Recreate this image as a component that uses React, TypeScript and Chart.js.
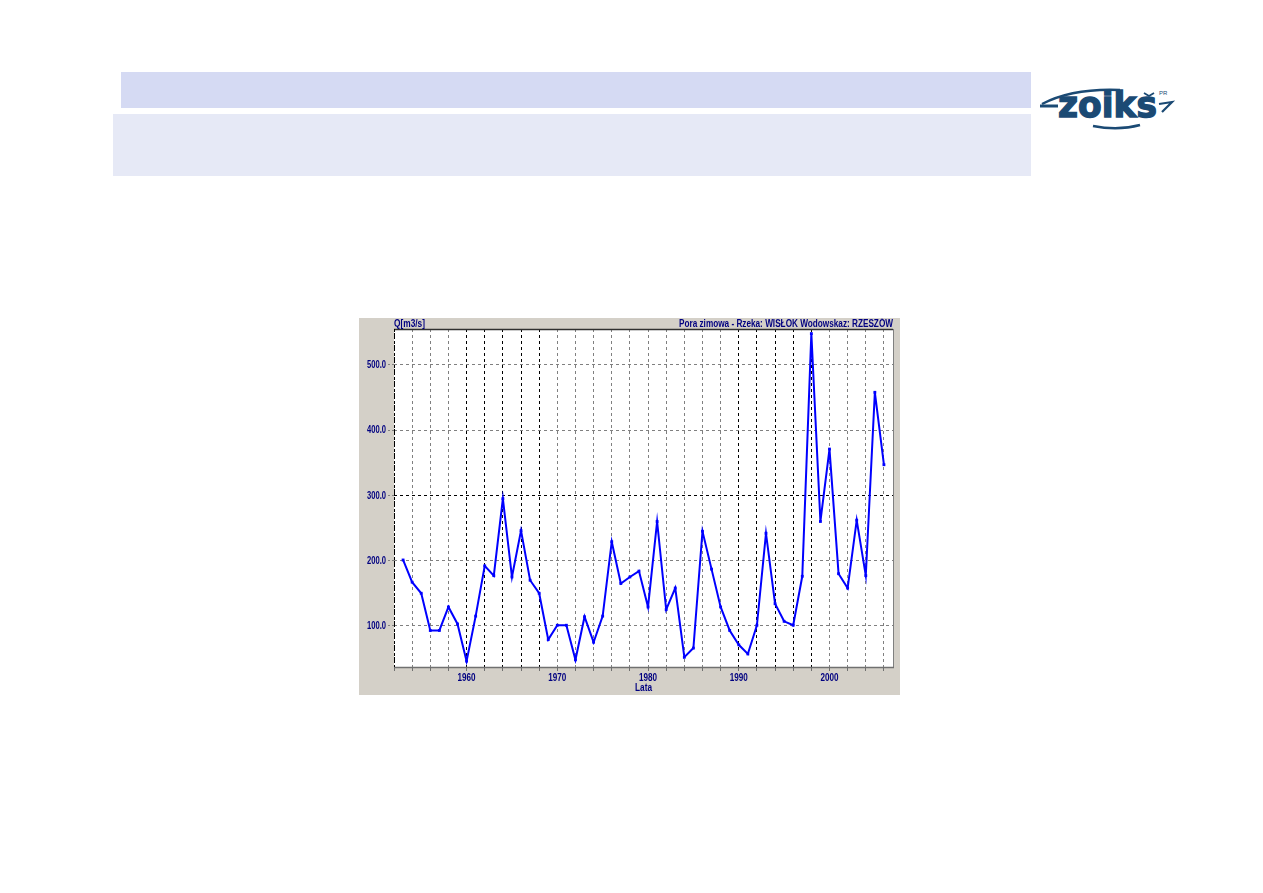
import React, { useEffect, useRef } from "react";
import { Chart, registerables } from "chart.js";

Chart.register(...registerables);

const years = [
  1953, 1954, 1955, 1956, 1957, 1958, 1959, 1960, 1961, 1962, 1963, 1964, 1965,
  1966, 1967, 1968, 1969, 1970, 1971, 1972, 1973, 1974, 1975, 1976, 1977, 1978,
  1979, 1980, 1981, 1982, 1983, 1984, 1985, 1986, 1987, 1988, 1989, 1990, 1991,
  1992, 1993, 1994, 1995, 1996, 1997, 1998, 1999, 2000, 2001, 2002, 2003, 2004,
  2005, 2006,
];
const flows = [
  201, 167, 150, 93, 93, 129, 103, 46, 115, 192, 177, 295, 175,
  246, 170, 150, 79, 101, 101, 48, 114, 75, 115, 229, 165, 175,
  184, 129, 260, 125, 158, 52, 66, 245, 187, 129, 93, 71, 57,
  101, 242, 134, 107, 101, 176, 548, 260, 371, 180, 158, 262, 177,
  458, 347,
];
const yTickValues = [100, 200, 300, 400, 500];
const xLabelYears = [1960, 1970, 1980, 1990, 2000];
const darkXGrid = [1952, 1960, 1962, 1964, 1966, 1968, 1990, 1992, 1994, 1996, 1998];
const darkYGrid = [300];

const leftTitle = "Q[m3/s]";
const rightTitle = "Pora zimowa - Rzeka: WISŁOK Wodowskaz: RZESZÓW";
const xTitle = "Lata";

const NAVY = "#000080";
const FONT = "'Liberation Sans', Arial, sans-serif";

const framePlugin = {
  id: "framePlugin",
  beforeDraw(chart: any) {
    const { ctx, width, height, chartArea } = chart;
    ctx.save();
    ctx.fillStyle = "#d4d0c8";
    ctx.fillRect(0, 0, width, height);
    ctx.fillStyle = "#ffffff";
    ctx.fillRect(chartArea.left, chartArea.top, chartArea.right - chartArea.left, chartArea.bottom - chartArea.top);
    ctx.restore();
  },
  afterDraw(chart: any) {
    const { ctx, chartArea, scales } = chart;
    const { left, right, top, bottom } = chartArea;
    ctx.save();
    ctx.strokeStyle = "#303030";
    ctx.lineWidth = 1.5;
    ctx.beginPath();
    ctx.moveTo(left, top + 0.5);
    ctx.lineTo(right, top + 0.5);
    ctx.stroke();
    ctx.strokeStyle = "#808080";
    ctx.lineWidth = 1;
    ctx.beginPath();
    ctx.moveTo(right + 0.5, top);
    ctx.lineTo(right + 0.5, bottom);
    ctx.stroke();
    ctx.strokeStyle = "#707070";
    ctx.lineWidth = 1.5;
    ctx.beginPath();
    ctx.moveTo(left, bottom + 0.5);
    ctx.lineTo(right + 1, bottom + 0.5);
    ctx.stroke();
    ctx.strokeStyle = "#000000";
    ctx.lineWidth = 1;
    ctx.setLineDash([2, 2]);
    ctx.beginPath();
    ctx.moveTo(left + 0.5, top);
    ctx.lineTo(left + 0.5, bottom);
    ctx.stroke();
    ctx.setLineDash([]);

    ctx.fillStyle = NAVY;
    ctx.textBaseline = "middle";
    ctx.font = `bold 10px ${FONT}`;

    // tick labels (compressed like the narrow bitmap font of the original)
    ctx.textAlign = "center";
    xLabelYears.forEach((yr) => {
      ctx.fillText(String(yr), scales.x.getPixelForValue(yr), 360, 18);
    });
    ctx.textAlign = "right";
    yTickValues.forEach((v) => {
      ctx.fillText(v.toFixed(1), left - 8, scales.y.getPixelForValue(v) + 0.5, 19);
    });

    ctx.textAlign = "left";
    ctx.fillText(leftTitle, left, 6, 31);
    ctx.textAlign = "right";
    ctx.fillText(rightTitle, right, 6, 214);
    ctx.textAlign = "center";
    ctx.fillText(xTitle, (left + right) / 2, 370, 17);
    ctx.restore();
  },
};

function ChartView() {
  const ref = useRef<HTMLCanvasElement | null>(null);
  useEffect(() => {
    if (!ref.current) return;
    const chart = new Chart(ref.current, {
      type: "line",
      data: {
        datasets: [
          {
            data: years.map((y, i) => ({ x: y, y: flows[i] })),
            borderColor: "#0000ff",
            backgroundColor: "#0000ff",
            borderWidth: 2,
            pointStyle: "rect",
            pointRadius: 2,
            pointBorderWidth: 0,
            tension: 0,
          },
        ],
      },
      options: {
        responsive: false,
        animation: false,
        devicePixelRatio: 1,
        layout: { padding: { left: 0, top: 11, right: 7, bottom: 0 } },
        plugins: { legend: { display: false }, tooltip: { enabled: false }, title: { display: false } },
        scales: {
          x: {
            type: "linear",
            min: 1952,
            max: 2007,
            afterFit: (s: any) => {
              s.height = 28;
            },
            afterBuildTicks: (s: any) => {
              const t: any[] = [];
              for (let v = 1952; v <= 2006; v += 2) t.push({ value: v });
              s.ticks = t;
            },
            ticks: { display: false, autoSkip: false, maxRotation: 0 },
            grid: {
              color: (c: any) => (c.tick && darkXGrid.includes(c.tick.value) ? "#000000" : "#808080"),
              lineWidth: 1,
              drawTicks: true,
              tickLength: 4,
              tickColor: "#707070",
            },
            border: { display: false, dash: [3, 3] },
          },
          y: {
            type: "linear",
            min: 37,
            max: 555,
            afterFit: (s: any) => {
              s.width = 35;
            },
            afterBuildTicks: (s: any) => {
              s.ticks = yTickValues.map((v) => ({ value: v }));
            },
            ticks: { display: false },
            grid: {
              color: (c: any) => (c.tick && darkYGrid.includes(c.tick.value) ? "#000000" : "#808080"),
              lineWidth: 1,
              drawTicks: true,
              tickLength: 6,
              tickBorderDash: [2, 2],
              tickColor: "#808080",
            },
            border: { display: false, dash: [3, 3] },
          },
        },
      },
      plugins: [framePlugin],
    } as any);
    return () => chart.destroy();
  }, []);
  return <canvas ref={ref} width={541} height={377} style={{ display: "block", width: 541, height: 377 }} />;
}

function Logo() {
  const c = "#1b4a74";
  return (
    <svg width={150} height={52} viewBox="0 0 150 52" style={{ position: "absolute", left: 1028, top: 84 }}>
      <path d="M 14 20 Q 45 4 92 6" stroke={c} strokeWidth={2.5} fill="none" />
      <path d="M 12 22 L 30 22" stroke={c} strokeWidth={3} />
      <text
        x={30}
        y={33}
        fontFamily="'DejaVu Sans', sans-serif"
        fontWeight={700}
        fontSize={36}
        fill={c}
        stroke={c}
        strokeWidth={1.4}
        textLength={99}
        lengthAdjust="spacingAndGlyphs"
      >
        zoiks
      </text>
      <path d="M 116 9 L 121 12 L 126 9" stroke={c} strokeWidth={1.8} fill="none" />
      <text x={131} y={11} fontFamily="'Liberation Sans', sans-serif" fontSize={6} fill={c}>
        PR
      </text>
      <path d="M 131 20 L 144 18 L 134 28" stroke={c} strokeWidth={2.2} fill="none" />
      <path d="M 65 42 Q 90 47 112 41" stroke={c} strokeWidth={2.5} fill="none" />
    </svg>
  );
}

export default function App() {
  return (
    <div style={{ position: "relative", width: 1247, height: 877 }}>
      <div style={{ position: "absolute", left: 113, top: 64, width: 910, height: 36, background: "#d5daf3" }} />
      <div style={{ position: "absolute", left: 105, top: 106, width: 918, height: 62, background: "#e6e9f6" }} />
      <div style={{ position: "absolute", left: -8, top: -8 }}>
        <Logo />
        <div style={{ position: "absolute", left: 359, top: 318 }}>
          <ChartView />
        </div>
      </div>
    </div>
  );
}
